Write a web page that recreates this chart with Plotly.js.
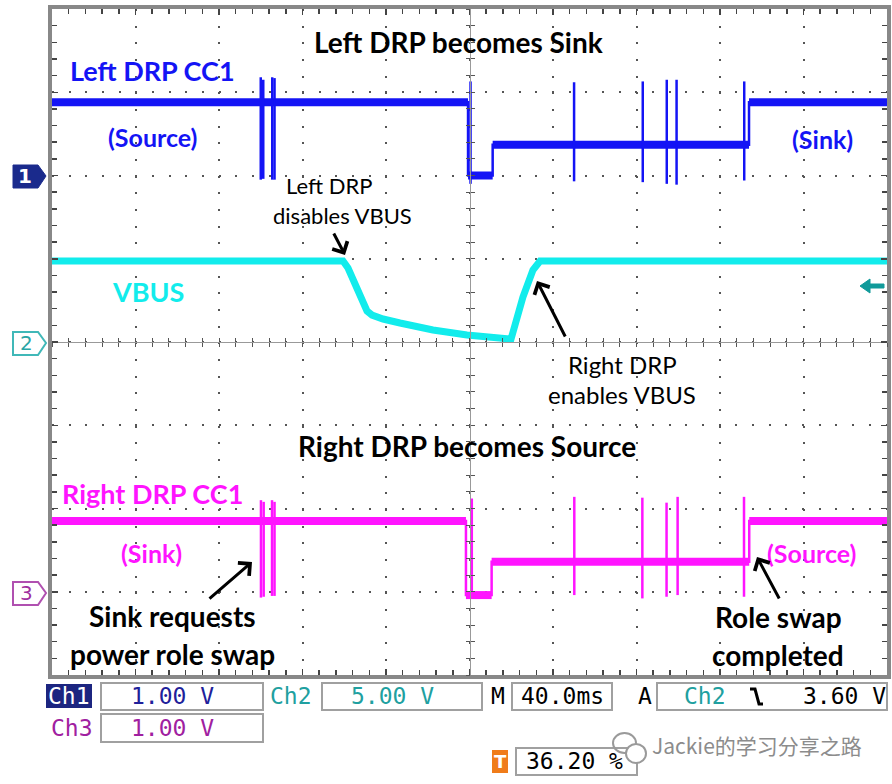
<!DOCTYPE html>
<html><head><meta charset="utf-8">
<script src="https://cdn.plot.ly/plotly-3.0.1.min.js"></script>
<style>html,body{margin:0;padding:0;background:#fff;} #chart{width:892px;height:784px;}</style>
</head><body><div id="chart"></div>
<script>
// Screen time: 10 div x 40 ms/div (ms from left edge)
const timeRange = [0, 400];

// Ch1 - Left DRP CC1 (1 V/div), level segments
const cc1SegStart = [0, 199.3, 211.1, 333.9];
const cc1SegEnd   = [199.3, 211.1, 333.9, 400];
const cc1SegLevel = [0.88, 0.00, 0.37, 0.88];
const cc1SpikeT   = [100.0, 101.2, 105.5, 106.6, 200.5, 250.1, 283.0, 294.5, 299.2, 331.6];
const cc1SpikeHi  = [1.18, 1.15, 1.18, 1.17, 1.13, 1.12, 1.13, 1.15, 1.15, 1.13];
const cc1SpikeLo  = [-0.05, -0.04, -0.05, -0.05, -0.10, -0.07, -0.08, -0.10, -0.11, -0.06];

// Ch2 - VBUS (5 V/div)
const vbusT = [0, 139.4, 141.8, 144.2, 147.5, 150.9, 153.3, 158.6, 166.7, 182.5, 198.8, 214.6, 219.9, 225.6, 230.4, 233.8, 400];
const vbusV = [4.86, 4.86, 4.44, 3.72, 2.76, 1.86, 1.62, 1.38, 1.14, 0.72, 0.42, 0.30, 0.18, 2.70, 4.32, 4.86, 4.86];

// Ch3 - Right DRP CC1 (1 V/div), level segments
const cc3SegStart = [0, 198.3, 210.6, 334.0];
const cc3SegEnd   = [198.3, 210.6, 334.0, 400];
const cc3SegLevel = [0.85, -0.04, 0.36, 0.85];
const cc3SpikeT   = [100.1, 101.4, 105.4, 106.6, 201.1, 250.2, 282.8, 294.4, 299.7, 331.5];
const cc3SpikeHi  = [1.10, 1.08, 1.10, 1.08, 1.12, 1.14, 1.13, 1.07, 1.14, 1.14];
const cc3SpikeLo  = [-0.07, -0.06, -0.05, -0.05, -0.05, -0.04, -0.08, -0.06, -0.04, -0.06];

// Status-bar readouts
const ch1Scale = '1.00 V', ch2Scale = '5.00 V', ch3Scale = '1.00 V';
const timeScale = '40.0ms', trigSource = 'Ch2', trigLevel = '3.60 V', trigPos = '36.20 %';

const BLUE = '#1414f5', CYAN = '#12ecec', MAG = '#ff14ff';

function bandXY(s, e, l) {
  const x = [], y = [];
  for (let i = 0; i < s.length; i++) { x.push(s[i], e[i], null); y.push(l[i], l[i], null); }
  return {x, y};
}
function stepXY(s, e, l) {
  const x = [s[0]], y = [l[0]];
  for (let i = 0; i < s.length; i++) {
    x.push(e[i]); y.push(l[i]);
    if (i + 1 < s.length) { x.push(e[i]); y.push(l[i + 1]); }
  }
  return {x, y};
}
function spikeXY(t, hi, lo) {
  const x = [], y = [];
  for (let i = 0; i < t.length; i++) { x.push(t[i], t[i], null); y.push(hi[i], lo[i], null); }
  return {x, y};
}
function ln(xy, color, w, yax) {
  return {x: xy.x, y: xy.y, type: 'scatter', mode: 'lines', yaxis: yax,
    line: {color, width: w}, hoverinfo: 'skip', showlegend: false, connectgaps: false};
}

const traces = [
  ln(bandXY(cc1SegStart, cc1SegEnd, cc1SegLevel), BLUE, 8, 'y'),
  ln(stepXY(cc1SegStart, cc1SegEnd, cc1SegLevel), BLUE, 2.5, 'y'),
  ln(spikeXY(cc1SpikeT, cc1SpikeHi, cc1SpikeLo), BLUE, 2.5, 'y'),
  {x: vbusT, y: vbusV, type: 'scatter', mode: 'lines', yaxis: 'y2', line: {color: CYAN, width: 7}, hoverinfo: 'skip', showlegend: false},
  ln(bandXY(cc3SegStart, cc3SegEnd, cc3SegLevel), MAG, 8, 'y3'),
  ln(stepXY(cc3SegStart, cc3SegEnd, cc3SegLevel), MAG, 2.5, 'y3'),
  ln(spikeXY(cc3SpikeT, cc3SpikeHi, cc3SpikeLo), MAG, 2.5, 'y3'),
  {x: [null], y: [null], xaxis: 'x2', yaxis: 'y4', type: 'scatter', mode: 'lines', showlegend: false, hoverinfo: 'skip'},
  {x: [null], y: [null], xaxis: 'x3', yaxis: 'y5', type: 'scatter', mode: 'lines', showlegend: false, hoverinfo: 'skip'}
];

// pixel -> paper helpers (plot area 52..887 x 9..675)
const L = 52, R = 887, T = 9, B = 675;
const PX = x => (x - L) / (R - L);
const PY = y => (B - y) / (B - T);
const pathPx = pts => 'M' + pts.map(p => PX(p[0]) + ',' + PY(p[1])).join('L') + 'Z';
const pathOpen = pts => 'M' + pts.map(p => PX(p[0]) + ',' + PY(p[1])).join('L');

const LBL = 'Lato, "Open Sans", sans-serif';
const SCOPE = '"DejaVu Sans Mono", monospace';

function txt(text, x, y, color, size, family, bold) {
  return {xref: 'paper', yref: 'paper', x: PX(x), y: PY(y), text: bold ? '<b>' + text + '</b>' : text,
    showarrow: false, xanchor: 'center', yanchor: 'middle',
    font: {family: family || LBL, size: size, color: color}};
}
function arrow(x0, y0, x1, y1) {
  return {xref: 'paper', yref: 'paper', x: PX(x1), y: PY(y1), ax: x0 - x1, ay: y0 - y1,
    text: '', showarrow: true, arrowhead: 4, arrowsize: 1.1, arrowwidth: 3, arrowcolor: '#000'};
}

const annotations = [
  txt('Left DRP becomes Sink', 458, 42, '#000', 28, LBL, true),
  txt('Left DRP CC1', 152, 70, BLUE, 27, LBL, true),
  txt('(Source)', 152, 137, BLUE, 25, LBL, true),
  txt('(Sink)', 822, 139, BLUE, 25, LBL, true),
  txt('Left DRP', 329, 186, '#000', 22, LBL, false),
  txt('disables VBUS', 342, 215, '#000', 22, LBL, false),
  txt('VBUS', 148, 291, CYAN, 27, LBL, true),
  txt('Right DRP', 622, 364, '#000', 24, LBL, false),
  txt('enables VBUS', 622, 395, '#000', 24, LBL, false),
  txt('Right DRP becomes Source', 467, 446, '#000', 28, LBL, true),
  txt('Right DRP CC1', 152, 493, MAG, 27, LBL, true),
  txt('(Sink)', 151, 553, MAG, 25, LBL, true),
  txt('(Source)', 811, 553, MAG, 25, LBL, true),
  txt('Sink requests', 172, 616, '#000', 28, LBL, true),
  txt('power role swap', 172, 654, '#000', 28, LBL, true),
  txt('Role swap', 778, 617, '#000', 28, LBL, true),
  txt('completed', 778, 655, '#000', 28, LBL, true),
  arrow(333, 232, 345, 255),
  arrow(566, 338, 537, 281),
  arrow(208, 600, 252, 562),
  arrow(780, 600, 757, 557),
  // channel markers
  txt('1', 25, 176, '#fff', 20, 'DejaVu Sans', true),
  txt('2', 26, 343, '#2aa5a5', 20, 'DejaVu Sans', false),
  txt('3', 26, 593, '#a030a0', 20, 'DejaVu Sans', false),
  // status bar
  txt('Ch1', 69, 696, '#fff', 23, SCOPE, false),
  txt(ch1Scale, 172, 696, '#20209a', 23, SCOPE, false),
  txt('Ch2', 291, 696, '#20a0a0', 23, SCOPE, false),
  txt(ch2Scale, 392, 696, '#20a0a0', 23, SCOPE, false),
  txt('M', 498, 696, '#000', 23, SCOPE, false),
  txt(timeScale, 562, 696, '#000', 23, SCOPE, false),
  txt('A', 645, 696, '#000', 23, SCOPE, false),
  txt(trigSource, 705, 696, '#20a0a0', 23, SCOPE, false),
  txt(trigLevel, 844, 696, '#000', 23, SCOPE, false),
  txt('Ch3', 72, 728, '#a020a0', 23, SCOPE, false),
  txt(ch3Scale, 172, 728, '#a020a0', 23, SCOPE, false),
  txt('T', 500, 761, '#fff', 18, 'DejaVu Sans', true),
  txt(trigPos, 574, 761, '#000', 23, SCOPE, false),
  txt('Jackie的学习分享之路', 757, 745, '#8c8c8c', 21, '"Noto Sans CJK SC", sans-serif', false)
];

const boxLine = {color: '#a0a0a0', width: 2};
const rectPx = (x0, y0, x1, y1, fill, line) => ({type: 'rect', xref: 'paper', yref: 'paper',
  x0: PX(x0), x1: PX(x1), y0: PY(y1), y1: PY(y0), fillcolor: fill, line: line, layer: 'above'});

const shapes = [
  // channel ground markers
  {type: 'path', xref: 'paper', yref: 'paper', path: pathPx([[13,165],[38,165],[46,176],[38,188],[13,188]]), fillcolor: '#1a2a8c', line: {color: '#1a2a8c', width: 1}},
  {type: 'path', xref: 'paper', yref: 'paper', path: pathPx([[13,332],[38,332],[46,343],[38,355],[13,355]]), fillcolor: '#fff', line: {color: '#40b8b8', width: 2}},
  {type: 'path', xref: 'paper', yref: 'paper', path: pathPx([[13,582],[38,582],[46,593],[38,605],[13,605]]), fillcolor: '#fff', line: {color: '#b050b0', width: 2}},
  // trigger level marker
  {type: 'path', xref: 'paper', yref: 'paper', path: pathPx([[860,286],[870,279],[870,284],[884,284],[884,288],[870,288],[870,293]]), fillcolor: '#109a9a', line: {color: '#109a9a', width: 1}},
  // status bar
  rectPx(46, 684, 92, 708, '#1c2580', {width: 0}),
  rectPx(101, 683, 263, 710, 'rgba(0,0,0,0)', boxLine),
  rectPx(322, 683, 482, 710, 'rgba(0,0,0,0)', boxLine),
  rectPx(512, 683, 612, 710, 'rgba(0,0,0,0)', boxLine),
  rectPx(657, 683, 887, 710, 'rgba(0,0,0,0)', boxLine),
  rectPx(101, 714, 263, 742, 'rgba(0,0,0,0)', boxLine),
  rectPx(516, 748, 637, 775, 'rgba(0,0,0,0)', boxLine),
  rectPx(492, 750, 508, 773, '#f07c1a', {width: 0}),
  // falling edge symbol
  {type: 'path', xref: 'paper', yref: 'paper', path: pathOpen([[750,689],[755,689],[759,704],[763,704]]), line: {color: '#000', width: 3}},
  // watermark icon
  {type: 'circle', xref: 'paper', yref: 'paper', x0: PX(613), x1: PX(636), y0: PY(753), y1: PY(733), line: {color: '#9a9a9a', width: 2}},
  {type: 'circle', xref: 'paper', yref: 'paper', x0: PX(626), x1: PX(646), y0: PY(763), y1: PY(744), fillcolor: '#fff', line: {color: '#9a9a9a', width: 2}}
];

const gridDash = '2px,14.67px';
const layout = {
  width: 892, height: 784,
  margin: {l: L, r: 892 - R, t: T, b: 784 - B, pad: 0},
  paper_bgcolor: '#fff', plot_bgcolor: '#fff',
  showlegend: false,
  xaxis: {range: timeRange, dtick: 40, tick0: 0, showgrid: true, gridcolor: '#555', gridwidth: 2, griddash: gridDash,
    zeroline: false, showticklabels: false, ticks: 'inside', ticklen: 6, tickcolor: '#444', tickwidth: 1.5,
    showline: true, linecolor: '#888', linewidth: 4, mirror: 'ticks',
    minor: {dtick: 8, tick0: 0, ticks: 'inside', ticklen: 5, tickcolor: '#444', tickwidth: 1.5, showgrid: false}},
  // Ch1: 1 V/div, ground marker 2 div above centre
  yaxis: {range: [-6, 2], dtick: 1, tick0: 0, showgrid: true, gridcolor: '#555', gridwidth: 2, griddash: gridDash,
    zeroline: false, showticklabels: false, ticks: 'inside', ticklen: 6, tickcolor: '#444', tickwidth: 1.5,
    showline: true, linecolor: '#888', linewidth: 4, mirror: 'ticks',
    minor: {dtick: 0.2, tick0: 0, ticks: 'inside', ticklen: 5, tickcolor: '#444', tickwidth: 1.5, showgrid: false}},
  // Ch2: 5 V/div, ground at centre
  yaxis2: {range: [-20, 20], overlaying: 'y', visible: false},
  // Ch3: 1 V/div, ground 3 div below centre
  yaxis3: {range: [-1, 7], overlaying: 'y', visible: false},
  xaxis2: {range: timeRange, overlaying: 'x', anchor: 'free', position: 0.5, showline: true, linecolor: '#999', linewidth: 1,
    ticks: 'outside', ticklen: 4, dtick: 8, tick0: 0, tickcolor: '#555', showticklabels: false, showgrid: false, zeroline: false},
  xaxis3: {range: timeRange, overlaying: 'x', anchor: 'free', position: 0.5, showline: false,
    ticks: 'inside', ticklen: 4, dtick: 8, tick0: 0, tickcolor: '#555', showticklabels: false, showgrid: false, zeroline: false},
  yaxis4: {range: [-4, 4], overlaying: 'y', anchor: 'free', position: 0.5, showline: true, linecolor: '#999', linewidth: 1,
    ticks: 'outside', ticklen: 4, dtick: 0.2, tick0: 0, tickcolor: '#555', showticklabels: false, showgrid: false, zeroline: false},
  yaxis5: {range: [-4, 4], overlaying: 'y', anchor: 'free', position: 0.5, showline: false,
    ticks: 'inside', ticklen: 4, dtick: 0.2, tick0: 0, tickcolor: '#555', showticklabels: false, showgrid: false, zeroline: false},
  annotations: annotations,
  shapes: shapes
};

Plotly.newPlot('chart', traces, layout, {staticPlot: true, displayModeBar: false});
</script></body></html>
